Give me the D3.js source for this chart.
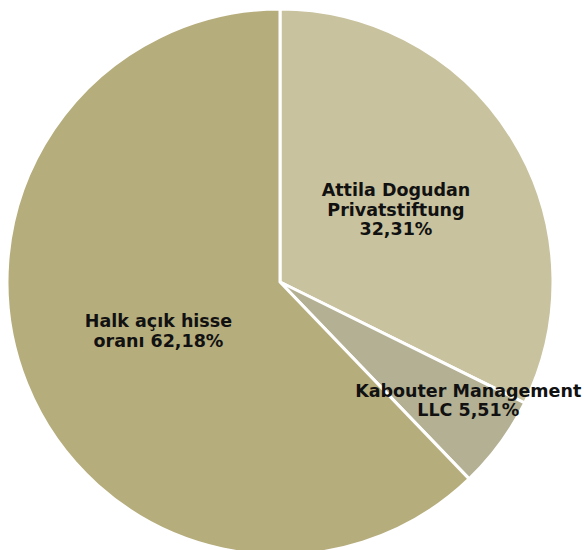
<!DOCTYPE html>
<html>
<head>
<meta charset="utf-8">
<script src="https://cdn.jsdelivr.net/npm/d3@7"></script>
<style>
  body { margin: 0; background: #fff; }
  svg { display: block; }
</style>
</head>
<body>
<svg id="chart"></svg>
<script>
// Shareholder data
const names = ["Attila Dogudan Privatstiftung", "Kabouter Management LLC", "Halk açık hisse oranı"];
const shares = [32.31, 5.51, 62.18];
const labelLines = [
    ["Attila Dogudan", "Privatstiftung", "32,31%"],
    ["Kabouter Management", "LLC 5,51%"],
    ["Halk açık hisse", "oranı 62,18%"]
];
const colors = ["#C8C29E", "#B3B093", "#B6AD7D"];

const width = 584, height = 550;
const cx = 280, cy = 282, radius = 273;
// label distance from center (fraction of radius) and angle nudge (degrees)
const labelRadius = [0.50, 0.815, 0.48];
const labelTurn = [0, -4, 0];

const svg = d3.select("#chart")
    .attr("width", width)
    .attr("height", height);

const g = svg.append("g")
    .attr("transform", `translate(${cx}, ${cy})`);

const data = names.map((n, i) => ({ name: n, value: shares[i], i: i }));

const pie = d3.pie()
    .value(d => d.value)
    .sort(null);

const arc = d3.arc()
    .innerRadius(0)
    .outerRadius(radius);

const arcs = pie(data);

g.selectAll("path")
    .data(arcs)
    .enter()
    .append("path")
    .attr("d", arc)
    .attr("fill", d => colors[d.data.i])
    .attr("stroke", "#fff")
    .attr("stroke-width", 3)
    .attr("stroke-linejoin", "round");

// Labels
const lineH = 19.5;
const labels = g.selectAll(".lbl")
    .data(arcs)
    .enter()
    .append("text")
    .attr("class", "lbl")
    .attr("text-anchor", "middle")
    .style("font-family", "'DejaVu Sans', Verdana, sans-serif")
    .style("font-size", "17.5px")
    .style("font-weight", "bold")
    .style("fill", "#111")
    .attr("transform", d => {
        const r = radius * labelRadius[d.data.i];
        const a = (d.startAngle + d.endAngle) / 2 + labelTurn[d.data.i] * Math.PI / 180;
        return `translate(${r * Math.sin(a)}, ${-r * Math.cos(a)})`;
    });

labels.each(function(d) {
    const lines = labelLines[d.data.i];
    const t = d3.select(this);
    lines.forEach((ln, k) => {
        t.append("tspan")
            .attr("x", 0)
            .attr("y", (k - (lines.length - 1) / 2) * lineH + 6)
            .text(ln);
    });
});
</script>
</body>
</html>
